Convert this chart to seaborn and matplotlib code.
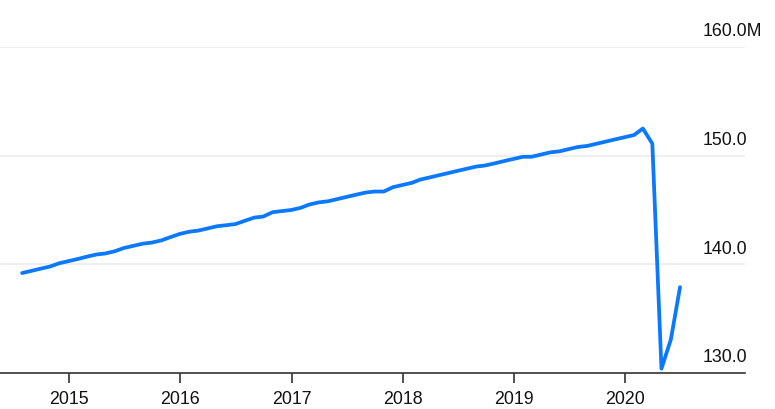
import matplotlib
matplotlib.use("Agg")
import matplotlib.pyplot as plt
import matplotlib.dates as mdates
import matplotlib.transforms as mtransforms
import seaborn as sns
import numpy as np
import pandas as pd

# Monthly total employment (millions), Jul 2014 - Jun 2020, plotted at month end
start_month = "2014-07-31"
end_month = "2020-06-30"
employment = [
    # 2014 Jul-Dec
    139.2, 139.4, 139.6, 139.8, 140.1, 140.3,
    # 2015
    140.5, 140.7, 140.9, 141.0, 141.2, 141.5, 141.7, 141.9, 142.0, 142.2, 142.5, 142.8,
    # 2016
    143.0, 143.1, 143.3, 143.5, 143.6, 143.7, 144.0, 144.3, 144.4, 144.8, 144.9, 145.0,
    # 2017
    145.2, 145.5, 145.7, 145.8, 146.0, 146.2, 146.4, 146.6, 146.7, 146.7, 147.1, 147.3,
    # 2018
    147.5, 147.8, 148.0, 148.2, 148.4, 148.6, 148.8, 149.0, 149.1, 149.3, 149.5, 149.7,
    # 2019
    149.9, 149.9, 150.1, 150.3, 150.4, 150.6, 150.8, 150.9, 151.1, 151.3, 151.5, 151.7,
    # 2020 Jan-Jun
    151.9, 152.5, 151.1, 130.4, 133.1, 137.9,
]
year_ticks = [2015, 2016, 2017, 2018, 2019, 2020]
grid_values = [130.0, 140.0, 150.0, 160.0]
grid_labels = ["130.0", "140.0", "150.0", "160.0M"]

df = pd.DataFrame({
    "date": pd.date_range(start_month, end_month, freq="ME"),
    "employment": employment,
})

sns.set_theme(style="white")
plt.rcParams["font.family"] = ["Liberation Sans", "DejaVu Sans"]

W, H = 775, 410
fig = plt.figure(figsize=(W / 100, H / 100), dpi=100)
# axes from x=0..745 px, y=48 (160) .. 374 (130) px
ax = fig.add_axes([0, (H - 374) / H, 745 / W, (374 - 48) / H])

sns.lineplot(data=df, x="date", y="employment", ax=ax, color="#0a78ff", linewidth=2.7)

# x range: 2015 tick at 69 px, 111.2 px per year
px_per_day = 111.2 / 365.25
jan2015 = pd.Timestamp("2015-01-01")
ax.set_xlim(jan2015 - pd.Timedelta(days=69 / px_per_day),
            jan2015 + pd.Timedelta(days=(745 - 69) / px_per_day))
ax.set_ylim(130, 160)

ax.set_xticks([pd.Timestamp(f"{y}-01-01") for y in year_ticks])
ax.xaxis.set_major_formatter(mdates.DateFormatter("%Y"))
ax.tick_params(axis="x", bottom=True, length=7, width=1.2, color="#333333",
               labelsize=12.8, pad=5, labelcolor="#111111")
ax.set_yticks([])
ax.set_xlabel("")
ax.set_ylabel("")

for side in ["top", "left", "right"]:
    ax.spines[side].set_visible(False)
ax.spines["bottom"].set_color("#333333")
ax.spines["bottom"].set_linewidth(1.2)

# light horizontal gridlines with labels sitting above them on the right
for v, lab in zip(grid_values, grid_labels):
    if v > 130:
        ax.axhline(v, color="#ebebeb", linewidth=1.1, zorder=0)
    trans = mtransforms.offset_copy(ax.get_yaxis_transform(), fig=fig, x=0, y=5.5, units="points")
    ax.text(703 / 745, v, lab, transform=trans, ha="left", va="bottom",
            fontsize=12.8, color="#111111", clip_on=False)

fig.savefig("out.png", dpi=100)
